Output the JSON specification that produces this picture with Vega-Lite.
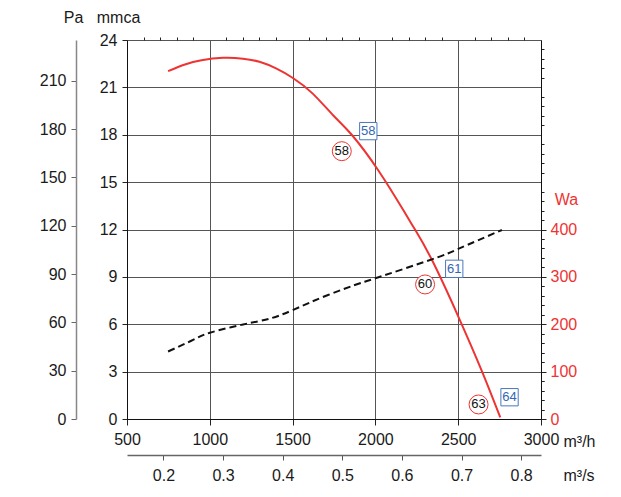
{
  "$schema": "https://vega.github.io/schema/vega-lite/v6.json",
  "width": 414,
  "height": 379,
  "autosize": "none",
  "padding": {"left": 127, "top": 40, "right": 80, "bottom": 78},
  "background": "white",
  "config": {
    "view": {"stroke": null},
    "axis": {
      "labelFont": "Liberation Sans",
      "titleFont": "Liberation Sans",
      "labelFontSize": 16,
      "titleFontSize": 16,
      "titleFontWeight": "normal",
      "labelColor": "#1a1a1a",
      "titleColor": "#1a1a1a",
      "tickColor": "#222222",
      "domainColor": "#111111",
      "gridColor": "#555555",
      "gridWidth": 1,
      "domainWidth": 1,
      "tickWidth": 1,
      "labelFlush": false,
      "labelOverlap": false
    }
  },
  "datasets": {
    "pressure": [
      {"flow": 748, "p": 22.03},
      {"flow": 850, "p": 22.45},
      {"flow": 950, "p": 22.72},
      {"flow": 1080, "p": 22.87},
      {"flow": 1200, "p": 22.82},
      {"flow": 1300, "p": 22.62},
      {"flow": 1400, "p": 22.2},
      {"flow": 1504, "p": 21.58},
      {"flow": 1620, "p": 20.62},
      {"flow": 1746, "p": 19.22},
      {"flow": 1857, "p": 18.0},
      {"flow": 2018, "p": 15.74},
      {"flow": 2170, "p": 13.2},
      {"flow": 2240, "p": 11.98},
      {"flow": 2341, "p": 10.08},
      {"flow": 2498, "p": 6.55},
      {"flow": 2643, "p": 3.03},
      {"flow": 2754, "p": 0.1}
    ],
    "power": [
      {"flow": 748, "w": 142.5},
      {"flow": 899, "w": 167},
      {"flow": 1000, "w": 182},
      {"flow": 1201, "w": 199.5},
      {"flow": 1363, "w": 212},
      {"flow": 1504, "w": 230.5},
      {"flow": 1706, "w": 260.7},
      {"flow": 1907, "w": 286.6},
      {"flow": 2000, "w": 297},
      {"flow": 2341, "w": 337},
      {"flow": 2500, "w": 359},
      {"flow": 2764, "w": 399}
    ],
    "circles": [
      {"flow": 1797, "p": 16.96, "label": "58"},
      {"flow": 2300, "p": 8.52, "label": "60"},
      {"flow": 2623, "p": 0.92, "label": "63"}
    ],
    "boxes": [
      {"flow": 1957, "p": 18.23, "label": "58"},
      {"flow": 2476, "p": 9.51, "label": "61"},
      {"flow": 2810, "p": 1.38, "label": "64"}
    ],
    "pa": [{"pa": 0}, {"pa": 235.36}],
    "ms": [{"q": 0.138889}, {"q": 0.833333}]
  },
  "resolve": {"scale": {"x": "independent", "y": "independent"}},
  "layer": [
    {
      "data": {"name": "pressure"},
      "mark": {"type": "line", "color": "#ee3333", "strokeWidth": 2, "interpolate": "natural"},
      "encoding": {
        "x": {
          "field": "flow", "type": "quantitative",
          "scale": {"domain": [500, 3000], "nice": false, "zero": false},
          "axis": {
            "values": [500, 1000, 1500, 2000, 2500, 3000], "format": "d",
            "grid": true, "tickSize": 6, "labelPadding": 6,
            "title": "m³/h", "titleX": 436, "titleY": 22,
            "titleAlign": "left", "titleBaseline": "middle", "titleAngle": 0
          }
        },
        "y": {
          "field": "p", "type": "quantitative",
          "scale": {"domain": [0, 24], "nice": false, "zero": false},
          "axis": {
            "values": [0, 3, 6, 9, 12, 15, 18, 21, 24],
            "grid": true, "tickSize": 5, "labelPadding": 5,
            "title": "mmca", "titleAngle": 0, "titleX": -9, "titleY": -23,
            "titleAlign": "center", "titleBaseline": "middle"
          }
        }
      }
    },
    {
      "data": {"name": "pressure"},
      "mark": {"type": "point", "opacity": 0},
      "encoding": {
        "x": {
          "field": "flow", "type": "quantitative",
          "scale": {"domain": [500, 3000], "nice": false, "zero": false},
          "axis": {
            "values": [600, 700, 800, 900, 1100, 1200, 1300, 1400, 1600, 1700, 1800, 1900, 2100, 2200, 2300, 2400, 2600, 2700, 2800, 2900],
            "grid": false, "labels": false, "domain": false, "tickSize": 3, "title": null
          }
        },
        "y": {
          "field": "p", "type": "quantitative",
          "scale": {"domain": [0, 24], "nice": false, "zero": false},
          "axis": {
            "values": [0.6, 1.2, 1.8, 2.4, 3.6, 4.2, 4.8, 5.4, 6.6, 7.2, 7.8, 8.4, 9.6, 10.2, 10.8, 11.4, 12.6, 13.2, 13.8, 14.4, 15.6, 16.2, 16.8, 17.4, 18.6, 19.2, 19.8, 20.4, 21.6, 22.2, 22.8, 23.4],
            "grid": false, "labels": false, "domain": false, "tickSize": 3, "title": null
          }
        }
      }
    },
    {
      "data": {"name": "power"},
      "mark": {"type": "line", "color": "#111111", "strokeWidth": 2, "strokeDash": [7, 4], "interpolate": "natural"},
      "encoding": {
        "x": {
          "field": "flow", "type": "quantitative",
          "scale": {"domain": [500, 3000], "nice": false, "zero": false},
          "axis": null
        },
        "y": {
          "field": "w", "type": "quantitative",
          "scale": {"domain": [0, 800], "nice": false, "zero": false},
          "axis": {
            "orient": "right",
            "values": [0, 100, 200, 300, 400],
            "grid": false, "tickSize": 5, "labelPadding": 4,
            "labelColor": "#ee3333",
            "title": "Wa", "titleColor": "#ee3333", "titleAngle": 0,
            "titleX": 25, "titleY": 159, "titleAlign": "center", "titleBaseline": "middle"
          }
        }
      }
    },
    {
      "data": {"name": "power"},
      "mark": {"type": "point", "opacity": 0},
      "encoding": {
        "x": {
          "field": "flow", "type": "quantitative",
          "scale": {"domain": [500, 3000], "nice": false, "zero": false},
          "axis": null
        },
        "y": {
          "field": "w", "type": "quantitative",
          "scale": {"domain": [0, 800], "nice": false, "zero": false},
          "axis": {
            "orient": "right",
            "values": [20, 40, 60, 80, 120, 140, 160, 180, 220, 240, 260, 280, 320, 340, 360, 380],
            "grid": false, "labels": false, "domain": false, "tickSize": 3, "title": null
          }
        }
      }
    },
    {
      "data": {"name": "pa"},
      "mark": {"type": "point", "opacity": 0},
      "encoding": {
        "y": {
          "field": "pa", "type": "quantitative",
          "scale": {"domain": [0, 235.36], "nice": false, "zero": false},
          "axis": {
            "orient": "left", "offset": 51,
            "values": [0, 30, 60, 90, 120, 150, 180, 210],
            "grid": false, "tickSize": 5, "labelPadding": 5,
            "domainColor": "#888888", "domainWidth": 1.5, "tickColor": "#666666",
            "title": "Pa", "titleAngle": 0, "titleX": -3, "titleY": -23,
            "titleAlign": "center", "titleBaseline": "middle"
          }
        }
      }
    },
    {
      "data": {"name": "ms"},
      "mark": {"type": "point", "opacity": 0},
      "encoding": {
        "x": {
          "field": "q", "type": "quantitative",
          "scale": {"domain": [0.138889, 0.833333], "nice": false, "zero": false},
          "axis": {
            "orient": "bottom", "offset": 36,
            "values": [0.2, 0.3, 0.4, 0.5, 0.6, 0.7, 0.8],
            "grid": false, "tickSize": 5, "labelPadding": 7,
            "domainColor": "#666666", "domainWidth": 1.5, "tickColor": "#555555",
            "title": "m³/s", "titleX": 436, "titleY": 20,
            "titleAlign": "left", "titleBaseline": "middle", "titleAngle": 0
          }
        }
      }
    },
    {
      "data": {"name": "circles"},
      "mark": {"type": "point", "shape": "circle", "filled": true, "fill": "white", "stroke": "#ee3333", "strokeWidth": 1, "size": 360, "opacity": 1},
      "encoding": {
        "x": {"field": "flow", "type": "quantitative", "scale": {"domain": [500, 3000], "nice": false, "zero": false}, "axis": null},
        "y": {"field": "p", "type": "quantitative", "scale": {"domain": [0, 24], "nice": false, "zero": false}, "axis": null}
      }
    },
    {
      "data": {"name": "circles"},
      "mark": {"type": "text", "font": "Liberation Sans", "fontSize": 13, "color": "#111111", "align": "center", "baseline": "middle"},
      "encoding": {
        "x": {"field": "flow", "type": "quantitative", "scale": {"domain": [500, 3000], "nice": false, "zero": false}, "axis": null},
        "y": {"field": "p", "type": "quantitative", "scale": {"domain": [0, 24], "nice": false, "zero": false}, "axis": null},
        "text": {"field": "label", "type": "nominal"}
      }
    },
    {
      "data": {"name": "boxes"},
      "mark": {"type": "point", "shape": "square", "filled": true, "fill": "white", "stroke": "#4a78bd", "strokeWidth": 1, "size": 300, "opacity": 1},
      "encoding": {
        "x": {"field": "flow", "type": "quantitative", "scale": {"domain": [500, 3000], "nice": false, "zero": false}, "axis": null},
        "y": {"field": "p", "type": "quantitative", "scale": {"domain": [0, 24], "nice": false, "zero": false}, "axis": null}
      }
    },
    {
      "data": {"name": "boxes"},
      "mark": {"type": "text", "font": "Liberation Sans", "fontSize": 13, "color": "#3366b3", "align": "center", "baseline": "middle"},
      "encoding": {
        "x": {"field": "flow", "type": "quantitative", "scale": {"domain": [500, 3000], "nice": false, "zero": false}, "axis": null},
        "y": {"field": "p", "type": "quantitative", "scale": {"domain": [0, 24], "nice": false, "zero": false}, "axis": null},
        "text": {"field": "label", "type": "nominal"}
      }
    }
  ]
}
